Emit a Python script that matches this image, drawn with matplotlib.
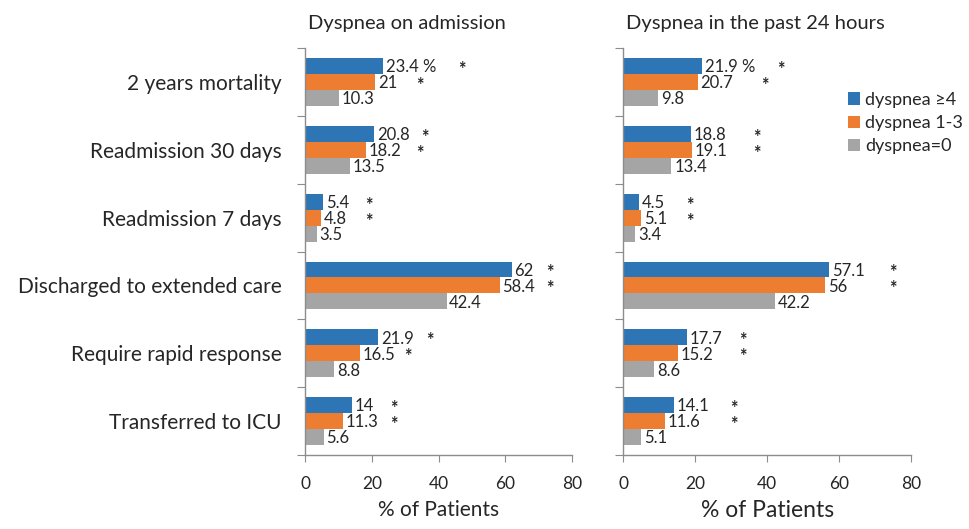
import matplotlib
matplotlib.use("Agg")
import matplotlib.pyplot as plt
import numpy as np
from matplotlib.patches import Patch

plt.rcParams['font.family'] = ['Lato', 'DejaVu Sans']

categories = ["2 years mortality", "Readmission 30 days", "Readmission 7 days",
              "Discharged to extended care", "Require rapid response", "Transferred to ICU"]
series_names = ["dyspnea \u22654", "dyspnea 1-3", "dyspnea=0"]

admission_high = [23.4, 20.8, 5.4, 62, 21.9, 14]
admission_mid = [21, 18.2, 4.8, 58.4, 16.5, 11.3]
admission_none = [10.3, 13.5, 3.5, 42.4, 8.8, 5.6]

past24_high = [21.9, 18.8, 4.5, 57.1, 17.7, 14.1]
past24_mid = [20.7, 19.1, 5.1, 56, 15.2, 11.6]
past24_none = [9.8, 13.4, 3.4, 42.2, 8.6, 5.1]

# x positions (in % units) of the significance asterisks, per series
admission_star_high = [47, 36, 19, 73.4, 37.4, 26.6]
admission_star_mid = [34.4, 34.4, 19, 73.4, 30.8, 26.6]
past24_star_high = [43.9, 37.2, 18.5, 75, 33.3, 30.8]
past24_star_mid = [39.4, 37.2, 18.5, 75, 33.3, 30.8]

colors = ["#2E75B6", "#ED7D31", "#A5A5A5"]
text_color = "#262626"
spine_color = "#8C8C8C"

fig = plt.figure(figsize=(9.69, 5.29), dpi=100)
ax1 = fig.add_axes([0.3148, 0.140, 0.2755, 0.769])
ax2 = fig.add_axes([0.6430, 0.140, 0.2975, 0.769])

bar_h = 0.235
offsets = [-bar_h, 0, bar_h]


def draw_panel(ax, title, vals, stars_high, stars_mid, xlabel_size):
    n = len(categories)
    y = np.arange(n)
    for k, (v, c) in enumerate(zip(vals, colors)):
        ax.barh(y + offsets[k], v, height=bar_h, color=c, zorder=2)
        for i, val in enumerate(v):
            txt = f"{val:g}"
            if i == 0 and k == 0:
                txt += " %"
            ax.text(val + 0.8, y[i] + offsets[k] + 0.02, txt, va="center", ha="left",
                    fontsize=12, color=text_color)
    for i in range(n):
        ax.text(stars_high[i], y[i] + offsets[0] + 0.05, "*", va="center", ha="center",
                fontsize=13, fontweight="bold", color=text_color)
        ax.text(stars_mid[i], y[i] + offsets[1] + 0.05, "*", va="center", ha="center",
                fontsize=13, fontweight="bold", color=text_color)
    ax.set_ylim(n - 0.5, -0.5)
    ax.set_xlim(0, 80)
    ax.set_xticks([0, 20, 40, 60, 80])
    ax.set_yticks(np.arange(n + 1) - 0.5, minor=False)
    ax.set_yticklabels([])
    ax.set_yticks(y, minor=True)
    ax.tick_params(axis="y", which="major", length=6, direction="out", color=spine_color)
    ax.tick_params(axis="y", which="minor", length=0)
    ax.tick_params(axis="x", length=5, direction="out", color=spine_color,
                   labelsize=12.5, labelcolor=text_color, pad=10)
    for s in ["top", "right"]:
        ax.spines[s].set_visible(False)
    for s in ["left", "bottom"]:
        ax.spines[s].set_color(spine_color)
        ax.spines[s].set_linewidth(1.0)
    ax.set_title(title, fontsize=14.5, color=text_color, loc="left", pad=14, x=0.01)
    ax.set_xlabel("% of Patients", fontsize=xlabel_size, color=text_color, labelpad=6)


draw_panel(ax1, "Dyspnea on admission",
           [admission_high, admission_mid, admission_none],
           admission_star_high, admission_star_mid, 15)
draw_panel(ax2, "Dyspnea in the past 24 hours",
           [past24_high, past24_mid, past24_none],
           past24_star_high, past24_star_mid, 16.5)

ax1.set_yticks(np.arange(len(categories)), minor=True)
ax1.set_yticklabels(categories, minor=True, fontsize=15, color=text_color)
ax1.tick_params(axis="y", which="minor", length=0, pad=17)

handles = [Patch(facecolor=c, edgecolor="none") for c in colors]
fig.legend(handles, series_names, loc="upper left", bbox_to_anchor=(0.868, 0.84),
           frameon=False, fontsize=13, handlelength=0.65, handleheight=0.65,
           handletextpad=0.3, labelspacing=0.4, labelcolor=text_color, borderaxespad=0)

fig.savefig("out.png", dpi=100, facecolor="white")
